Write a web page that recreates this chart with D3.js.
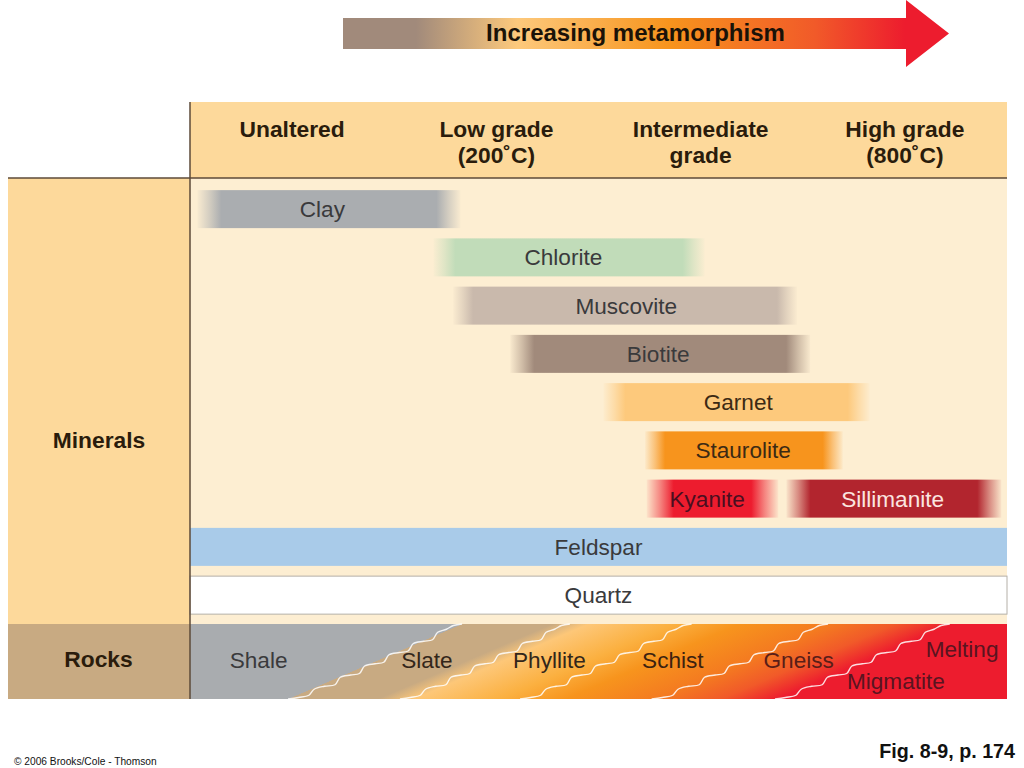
<!DOCTYPE html>
<html lang="en">
<head>
<meta charset="UTF-8">
<title>Increasing metamorphism</title>
<script src="https://d3js.org/d3.v7.min.js"></script>
<style>
  html, body { margin: 0; padding: 0; background: #fff; }
  svg { display: block; }
  text { font-family: "Liberation Sans", Arial, sans-serif; }
</style>
</head>
<body>
<div id="chart"></div>
<script>
// grade runs 0-100 across the table
const gradeColumns = ["Unaltered", "Low grade", "Intermediate", "High grade"];
const gradeLines2 = ["", "(200˚C)", "grade", "(800˚C)"];

const rows = ["Clay", "Chlorite", "Muscovite", "Biotite", "Garnet", "Staurolite", "Kyanite/Sillimanite", "Feldspar", "Quartz"];
const mineralNames = ["Clay", "Chlorite", "Muscovite", "Biotite", "Garnet", "Staurolite", "Kyanite", "Sillimanite"];
const mineralRows = ["Clay", "Chlorite", "Muscovite", "Biotite", "Garnet", "Staurolite", "Kyanite/Sillimanite", "Kyanite/Sillimanite"];
const mineralStart = [0.9, 29.8, 32.2, 39.2, 50.6, 55.7, 55.9, 73.0];
const mineralEnd = [33.1, 63.0, 74.3, 75.9, 83.2, 79.9, 72.0, 99.3];
const mineralLabelAt = [16.2, 45.7, 53.4, 57.3, 67.1, 67.7, 63.3, 86.0];

const rockNames = ["Shale", "Slate", "Phyllite", "Schist", "Gneiss", "Melting", "Migmatite"];
const rockGrade = [8.4, 29.0, 44.0, 59.1, 74.5, 94.5, 86.4];
const rockLevel = [0.48, 0.48, 0.48, 0.48, 0.48, 0.33, 0.76];

const boundaryBottom = [12.0, 25.7, 40.4, 56.5, 71.6];
const boundaryTop = [33.3, 46.5, 61.4, 78.1, 93.0];

// one stair shape shared by the wavy white lines
const stairAlong = [0, 0.06, 0.12, 0.15, 0.21, 0.27, 0.30, 0.36, 0.41, 0.44, 0.50, 0.55, 0.58, 0.64, 0.69, 0.72, 0.78, 0.83, 0.86, 0.91, 0.95, 1];
const stairUp = [0, 0.02, 0.05, 0.13, 0.17, 0.19, 0.29, 0.32, 0.34, 0.44, 0.47, 0.49, 0.59, 0.62, 0.64, 0.74, 0.77, 0.79, 0.89, 0.93, 0.98, 1];

// colours
const mineralColors = ["#aaadb0", "#c1dcb9", "#c9b9ac", "#a18a7b", "#fdc97c", "#f7941d", "#ed1c2e", "#b2252e"];
const mineralText = ["#3a3a3c", "#3a3a3c", "#3a3a3c", "#3a3a3c", "#3c2a14", "#3c2a14", "#4a0f20", "#fbe6e0"];
const mineralFade = [24, 22, 20, 24, 22, 20, 27, 24];
const rockText = ["#3a3a3c", "#33261a", "#33261a", "#3c2210", "#5a1e18", "#5a1420", "#5a1420"];
const rockStopGrade = [12.0, 12.1, 23.0, 27.5, 38.0, 46.0, 57.0, 65.0, 72.0, 100];
const rockStopColor = ["#a9acaf", "#c8aa82", "#c8aa82", "#fdc778", "#fbb040", "#f7941d", "#f47b20", "#f15a29", "#ed1c2e", "#ed1c2e"];
const arrowStops = [0, 0.13, 0.31, 0.58, 0.84, 1];
const arrowColors = ["#a18a7b", "#a18a7b", "#fdc97c", "#f7941d", "#f15a29", "#ed1c2e"];

const w = 1024, h = 768;
const tableLeft = 190, tableRight = 1007;
const headTop = 102, bodyTop = 178, bodyBottom = 624, rockBottom = 699;
const barHeight = 38;
const labelSize = 22.6, headSize = 22.8;

const svg = d3.select("#chart").append("svg").attr("width", w).attr("height", h);
const defs = svg.append("defs");

const x = d3.scaleLinear().domain([0, 100]).range([tableLeft, tableRight]);
const col = d3.scaleBand().domain(gradeColumns).range([tableLeft, tableRight]);
const y = d3.scaleBand().domain(rows).range([185, 619.25]).paddingInner(1 - barHeight / 48.25).paddingOuter((1 - barHeight / 48.25) / 2);
const rockY = d3.scaleLinear().domain([0, 1]).range([rockBottom, bodyBottom]);

// arrow
const arrowGrad = defs.append("linearGradient").attr("id", "arrowGrad")
    .attr("gradientUnits", "userSpaceOnUse").attr("x1", 343).attr("x2", 905).attr("y1", 0).attr("y2", 0);
arrowStops.forEach((s, i) => arrowGrad.append("stop").attr("offset", s).attr("stop-color", arrowColors[i]));
svg.append("path")
    .attr("d", "M343,18H906V0L949,33.5L906,67V49H343Z")
    .attr("fill", "url(#arrowGrad)");
svg.append("text").attr("x", 635.5).attr("y", 41).attr("text-anchor", "middle")
    .attr("font-size", 24).attr("font-weight", "bold").attr("fill", "#1a1208")
    .text("Increasing metamorphism");

// table backgrounds
svg.append("rect").attr("x", tableLeft).attr("y", headTop).attr("width", tableRight - tableLeft).attr("height", bodyTop - headTop).attr("fill", "#fdd99b");
svg.append("rect").attr("x", 8).attr("y", bodyTop).attr("width", tableLeft - 8).attr("height", bodyBottom - bodyTop).attr("fill", "#fdd99b");
svg.append("rect").attr("x", tableLeft).attr("y", bodyTop).attr("width", tableRight - tableLeft).attr("height", bodyBottom - bodyTop).attr("fill", "#fdeed2");
svg.append("rect").attr("x", 8).attr("y", bodyBottom).attr("width", tableLeft - 8).attr("height", rockBottom - bodyBottom).attr("fill", "#c8aa82");

// header labels
const head = svg.selectAll(".head").data(gradeColumns).enter().append("text")
    .attr("class", "head").attr("text-anchor", "middle")
    .attr("font-size", headSize).attr("font-weight", "bold").attr("fill", "#2a1c0c");
head.append("tspan").attr("x", d => col(d) + col.bandwidth() / 2).attr("y", 137).text(d => d);
head.append("tspan").attr("x", d => col(d) + col.bandwidth() / 2).attr("y", 163).text((d, i) => gradeLines2[i]);

svg.append("text").attr("x", 99).attr("y", 448).attr("text-anchor", "middle")
    .attr("font-size", headSize).attr("font-weight", "bold").attr("fill", "#2a1c0c").text("Minerals");
svg.append("text").attr("x", 98.5).attr("y", 667).attr("text-anchor", "middle")
    .attr("font-size", headSize).attr("font-weight", "bold").attr("fill", "#2a1c0c").text("Rocks");

// mineral bars with faded ends
mineralNames.forEach((name, i) => {
  const span = x(mineralEnd[i]) - x(mineralStart[i]);
  const f = mineralFade[i] / span;
  const g = defs.append("linearGradient").attr("id", "bar" + i);
  [[0, 0.05], [f * 0.5, 0.5], [f, 1], [1 - f, 1], [1 - f * 0.5, 0.5], [1, 0.05]].forEach(s => {
    g.append("stop").attr("offset", s[0]).attr("stop-color", mineralColors[i]).attr("stop-opacity", s[1]);
  });
});

svg.selectAll(".bar").data(mineralNames).enter().append("rect")
    .attr("class", "bar")
    .attr("x", (d, i) => x(mineralStart[i]))
    .attr("y", (d, i) => y(mineralRows[i]))
    .attr("width", (d, i) => x(mineralEnd[i]) - x(mineralStart[i]))
    .attr("height", y.bandwidth())
    .attr("fill", (d, i) => "url(#bar" + i + ")");

svg.selectAll(".barLabel").data(mineralNames).enter().append("text")
    .attr("class", "barLabel").attr("text-anchor", "middle")
    .attr("x", (d, i) => x(mineralLabelAt[i]))
    .attr("y", (d, i) => y(mineralRows[i]) + y.bandwidth() / 2 + 8)
    .attr("font-size", labelSize).attr("fill", (d, i) => mineralText[i])
    .text(d => d);

// full width rows
svg.append("rect").attr("x", x(0)).attr("y", y("Feldspar")).attr("width", x(100) - x(0)).attr("height", y.bandwidth()).attr("fill", "#a9cbe9");
svg.append("rect").attr("x", x(0)).attr("y", y("Quartz")).attr("width", x(100) - x(0)).attr("height", y.bandwidth()).attr("fill", "#fff").attr("stroke", "#b5b0a8");
["Feldspar", "Quartz"].forEach(d => {
  svg.append("text").attr("x", x(50)).attr("y", y(d) + y.bandwidth() / 2 + 8).attr("text-anchor", "middle")
      .attr("font-size", labelSize).attr("fill", "#3a3a3c").text(d);
});

// rocks band, colour bands run parallel to the white lines
const slope = (x(boundaryTop[0]) - x(boundaryBottom[0])) / (rockY(0) - rockY(1));
const nx = 1 / Math.hypot(1, slope), ny = slope / Math.hypot(1, slope);
const run = (x(100) - x(0)) * nx;
const rockGrad = defs.append("linearGradient").attr("id", "rockGrad")
    .attr("gradientUnits", "userSpaceOnUse")
    .attr("x1", x(0)).attr("y1", rockBottom)
    .attr("x2", x(0) + run * nx).attr("y2", rockBottom + run * ny);
// offsets along the gradient vector match grade at the bottom edge
rockStopGrade.forEach((g, i) => {
  rockGrad.append("stop").attr("offset", g / 100).attr("stop-color", rockStopColor[i]);
});
svg.append("rect").attr("x", x(0)).attr("y", bodyBottom).attr("width", x(100) - x(0)).attr("height", rockBottom - bodyBottom).attr("fill", "url(#rockGrad)");

const stair = d3.line().curve(d3.curveCatmullRom);
svg.selectAll(".stair").data(boundaryBottom).enter().append("path")
    .attr("class", "stair")
    .attr("d", (d, i) => stair(stairAlong.map((a, k) => [
      x(boundaryBottom[i] + (boundaryTop[i] - boundaryBottom[i]) * a),
      rockY(stairUp[k])
    ])))
    .attr("fill", "none").attr("stroke", "#fff").attr("stroke-width", 1.4).attr("stroke-opacity", 0.85);

svg.selectAll(".rockLabel").data(rockNames).enter().append("text")
    .attr("class", "rockLabel").attr("text-anchor", "middle")
    .attr("x", (d, i) => x(rockGrade[i]))
    .attr("y", (d, i) => rockY(1 - rockLevel[i]) + 8)
    .attr("font-size", labelSize).attr("fill", (d, i) => rockText[i])
    .text(d => d);

// rules
svg.append("line").attr("x1", tableLeft).attr("x2", tableLeft).attr("y1", headTop).attr("y2", rockBottom).attr("stroke", "#5c4a38").attr("stroke-width", 1.5);
svg.append("line").attr("x1", 8).attr("x2", tableRight).attr("y1", bodyTop).attr("y2", bodyTop).attr("stroke", "#5c4a38").attr("stroke-width", 1.5);

// credits
svg.append("text").attr("x", 14).attr("y", 765).attr("font-size", 10.2).attr("fill", "#111").text("© 2006 Brooks/Cole - Thomson");
svg.append("text").attr("x", 1015).attr("y", 758).attr("text-anchor", "end").attr("font-size", 19.7).attr("font-weight", "bold").attr("fill", "#111").text("Fig. 8-9, p. 174");
</script>
</body>
</html>
